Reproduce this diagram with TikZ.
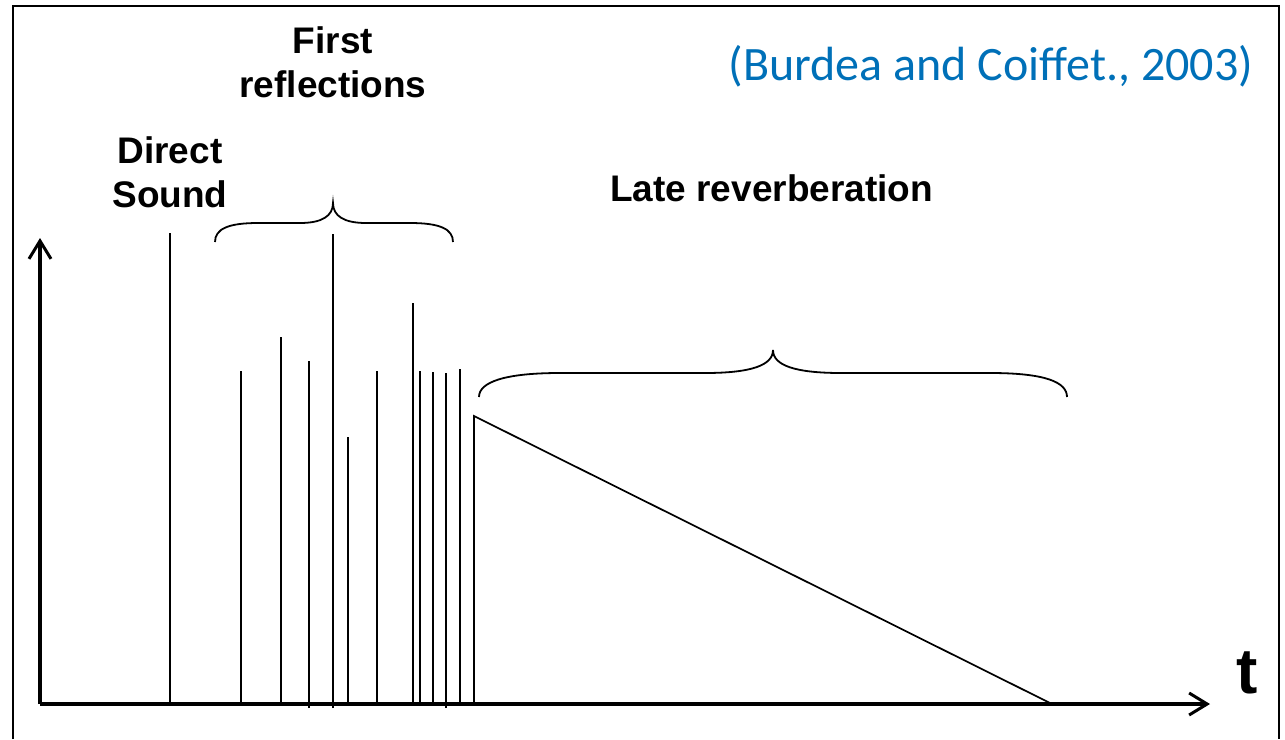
\documentclass[tikz,border=0pt]{standalone}
\usepackage{fontspec}
\setmainfont{Liberation Sans}
\newfontfamily\citefont{Carlito}
\usetikzlibrary{arrows.meta}
\definecolor{citeblue}{HTML}{0070B8}
\tikzset{
  axisline/.style={line width=3.2pt, -{Straight Barb[length=18pt,width=22pt,line width=3pt]}},
  pulse/.style={line width=2.2pt},
  ramp/.style={line width=1.7pt, line join=miter},
  bracket/.style={line width=1.8pt},
  label/.style={font=\fontsize{37}{44}\selectfont\bfseries, align=center, inner sep=0pt},
}
\begin{document}
\begin{tikzpicture}[x=1pt,y=-1pt]
\useasboundingbox (0,0) rectangle (1285,739);
% frame
\draw[line width=1.8pt] (13,739) -- (13,6) -- (1279,6) -- (1279,739);

% axes
\coordinate (origin) at (40,704);
\coordinate (ytop) at (40,238);
\coordinate (xend) at (1210,704);
\draw[axisline] (origin) -- (ytop);
\draw[axisline] (origin) -- (xend);

% direct sound
\draw[line width=2.6pt] (170,704) -- (170,233);

% early reflections
\foreach \x/\top/\bot in {241/371/704, 281/337/704, 309/361/708, 333/234/708,
                          348/437/704, 377/371/704, 413/303/704, 420/371/704,
                          433/372/704, 446/373/708, 460/369/704}
  \draw[pulse] (\x,\bot) -- (\x,\top);

% late reverberation envelope
\draw[ramp] (474,704) -- (474,416) -- (1052,704);

% braces
\draw[bracket] (215,242) .. controls (215,229) and (228,223) .. (258,223) -- (300,223)
  .. controls (322,223) and (333,216) .. (333,203)
  .. controls (333,216) and (344,223) .. (366,223) -- (410,223)
  .. controls (440,223) and (453,229) .. (453,242);
\draw[bracket] (479,397) .. controls (479,382) and (505,373) .. (560,373) -- (705,373)
  .. controls (752,373) and (773,365) .. (773,350)
  .. controls (773,365) and (794,373) .. (841,373) -- (990,373)
  .. controls (1045,373) and (1067,382) .. (1067,397);

% labels
\node[label] (direct) at (170,172) {Direct\\Sound};
\node[label] (first) at (333,62) {First\\reflections};
\node[label, anchor=west] (late) at (610,188) {Late reverberation};
\node[font=\fontsize{64}{68}\selectfont\bfseries, inner sep=0pt] (t) at (1247,673) {t};
\node[font=\citefont\fontsize{48}{52}\selectfont, text=citeblue, inner sep=0pt] (cite) at (991,66) {(Burdea and Coiffet., 2003)};
\end{tikzpicture}
\end{document}
